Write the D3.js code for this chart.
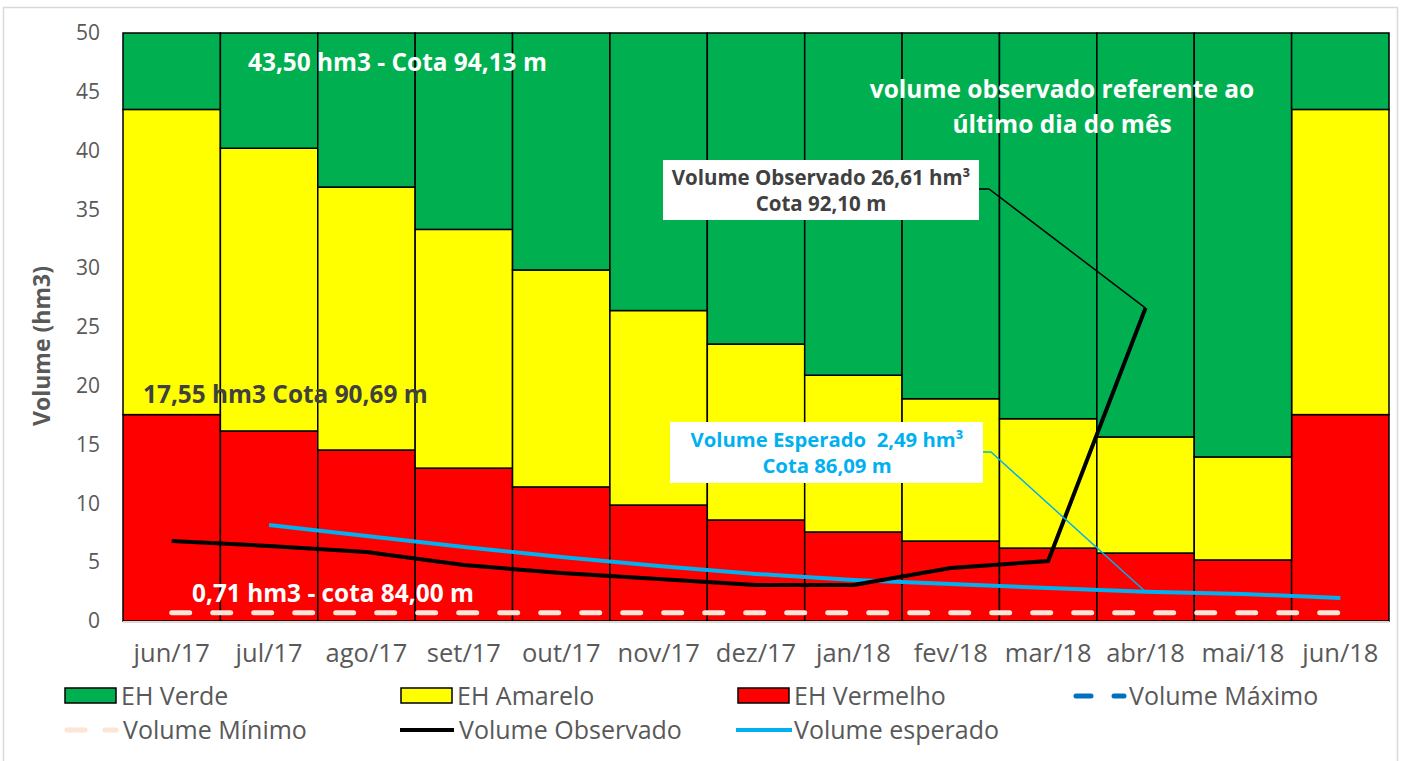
<!DOCTYPE html>
<html><head><meta charset="utf-8">
<script src="https://cdn.jsdelivr.net/npm/d3@7"></script>
<style>body{margin:0;background:#fff}svg{display:block}text{font-family:"Open Sans","Noto Sans",sans-serif}</style>
</head><body><svg id="c" width="1401" height="761"></svg>
<script>
const categories = ["jun/17","jul/17","ago/17","set/17","out/17","nov/17","dez/17","jan/18","fev/18","mar/18","abr/18","mai/18","jun/18"];
const ehVermelho = [17.55,16.16,14.54,13.0,11.4,9.86,8.59,7.57,6.8,6.2,5.78,5.19,17.55];
const ehAmarelo = [25.95,24.04,22.36,20.3,18.45,16.54,14.96,13.33,12.1,11.0,9.87,8.76,25.95];
const ehVerde = [6.5,9.8,13.1,16.7,20.15,23.6,26.45,29.1,31.1,32.8,34.35,36.05,6.5];
const volObservado = [6.8,6.38,5.87,4.76,4.08,3.57,3.06,3.06,4.5,5.1,26.61,null,null];
const volEsperado = [null,8.16,7.23,6.3,5.44,4.68,4.0,3.49,3.15,2.8,2.49,2.3,1.96];
const volMinimo = [0.71,0.71,0.71,0.71,0.71,0.71,0.71,0.71,0.71,0.71,0.71,0.71,0.71];
const yTicks = [0,5,10,15,20,25,30,35,40,45,50];

const FONT = "'Open Sans','Noto Sans',sans-serif";
const svg = d3.select("#c");
const x = d3.scaleBand().domain(categories).range([123,1389]).padding(0);
const y = d3.scaleLinear().domain([0,50]).range([621,33]);
const cx = c => x(c) + x.bandwidth()/2;

// frame
svg.append("rect").attr("x",3.5).attr("y",7.5).attr("width",1394).attr("height",780)
  .attr("fill","none").attr("stroke","#d9d9d9").attr("stroke-width",1.5);

// stacked bars
const rows = categories.map((c,i)=>({cat:c, red:ehVermelho[i], yellow:ehAmarelo[i], green:ehVerde[i]}));
const stack = d3.stack().keys(["red","yellow","green"])(rows);
const colors = {red:"#ff0000", yellow:"#ffff00", green:"#00b050"};
svg.append("g").selectAll("g").data(stack).join("g")
  .attr("fill",d=>colors[d.key])
  .selectAll("rect").data(d=>d).join("rect")
  .attr("x",d=>x(d.data.cat)).attr("width",x.bandwidth())
  .attr("y",d=>y(Math.min(50,d[1]))).attr("height",d=>y(d[0])-y(Math.min(50,d[1])))
  .attr("stroke","#000").attr("stroke-width",1.5);

// axes
svg.append("line").attr("x1",123).attr("x2",1389).attr("y1",y(0)+1).attr("y2",y(0)+1).attr("stroke","#d9d9d9").attr("stroke-width",2);
const ya = svg.append("g").attr("transform","translate(123,0)").call(d3.axisLeft(y).tickValues(yTicks).tickSize(0).tickPadding(23));
ya.select(".domain").remove();
ya.selectAll("text").attr("font-size",21).attr("fill","#595959").style("font-family",FONT);
const xa = svg.append("g").attr("transform","translate(0,621)").call(d3.axisBottom(x).tickSize(0).tickPadding(23));
xa.select(".domain").remove();
xa.selectAll("text").attr("font-size",25.5).attr("fill","#595959").style("font-family",FONT);

svg.append("text").attr("transform","translate(50,346) rotate(-90)").attr("text-anchor","middle")
  .attr("font-size",23).attr("font-weight","bold").attr("fill","#595959").text("Volume (hm3)");

// lines
const line = d3.line().defined(d=>d.v!=null).x(d=>cx(d.c)).y(d=>y(d.v));
const series = arr => categories.map((c,i)=>({c, v:arr[i]}));
svg.append("path").datum(series(volMinimo)).attr("d",line).attr("fill","none")
  .attr("stroke","#fbe5d6").attr("stroke-width",5).attr("stroke-dasharray","18,23").attr("stroke-linecap","round");
svg.append("path").datum(series(volEsperado)).attr("d",line).attr("fill","none")
  .attr("stroke","#00b0f0").attr("stroke-width",4);
svg.append("path").datum(series(volObservado)).attr("d",line).attr("fill","none")
  .attr("stroke","#000").attr("stroke-width",4);

// annotations
function label(txt,xp,yp,size,color,anchor){
  svg.append("text").attr("x",xp).attr("y",yp).attr("font-size",size).attr("font-weight","bold")
    .attr("fill",color).attr("text-anchor",anchor||"start").text(txt);
}
label("43,50 hm3 - Cota 94,13 m",248,71,24.4,"#fff");
label("17,55 hm3 Cota 90,69 m",143,403,24.4,"#404040");
label("0,71 hm3 - cota 84,00 m",192,602,24.4,"#fff");
label("volume observado referente ao",1062,98,24.5,"#fff","middle");
label("último dia do mês",1062,133,24.5,"#fff","middle");

// callout observed
const obsPt = [cx("abr/18"), y(26.61)];
svg.append("polyline").attr("points",`979,189 989,189 ${obsPt[0]},${obsPt[1]}`).attr("fill","none").attr("stroke","#000").attr("stroke-width",1.5);
svg.append("rect").attr("x",663).attr("y",160).attr("width",316).attr("height",60).attr("fill","#fff");
label("Volume Observado 26,61 hm³",821,185,20.5,"#404040","middle");
label("Cota 92,10 m",821,211,20.5,"#404040","middle");

// callout expected
const espPt = [cx("abr/18"), y(2.49)];
svg.append("polyline").attr("points",`983,452 991,452 ${espPt[0]},${espPt[1]}`).attr("fill","none").attr("stroke","#00b0f0").attr("stroke-width",1.5);
svg.append("rect").attr("x",670).attr("y",422).attr("width",313).attr("height",61).attr("fill","#fff");
label("Volume Esperado\u00a0 2,49 hm³",827,447,20.3,"#00b0f0","middle");
label("Cota 86,09 m",827,473,20.3,"#00b0f0","middle");

// legend
const lg = svg.append("g");
function legText(t,xp,yp){ lg.append("text").attr("x",xp).attr("y",yp).attr("dy","0.35em").attr("fill","#595959").attr("font-size",25).text(t); }
[["EH Verde","#00b050",65],["EH Amarelo","#ffff00",401],["EH Vermelho","#ff0000",738]].forEach(([t,c,xp])=>{
  lg.append("rect").attr("x",xp).attr("y",688).attr("width",51).attr("height",15).attr("fill",c).attr("stroke","#000").attr("stroke-width",1.5);
  legText(t,xp+56,696);
});
lg.append("line").attr("x1",1076).attr("x2",1124).attr("y1",696).attr("y2",696).attr("stroke","#0070c0").attr("stroke-width",5).attr("stroke-dasharray","15,23").attr("stroke-linecap","round");
legText("Volume Máximo",1129,696);
lg.append("line").attr("x1",67).attr("x2",116).attr("y1",730).attr("y2",730).attr("stroke","#fbe5d6").attr("stroke-width",5).attr("stroke-dasharray","18,20").attr("stroke-linecap","round");
legText("Volume Mínimo",123,730);
lg.append("line").attr("x1",400).attr("x2",454).attr("y1",730).attr("y2",730).attr("stroke","#000").attr("stroke-width",4);
legText("Volume Observado",459,730);
lg.append("line").attr("x1",736).attr("x2",792).attr("y1",730).attr("y2",730).attr("stroke","#00b0f0").attr("stroke-width",4);
legText("Volume esperado",794,730);
</script></body></html>
